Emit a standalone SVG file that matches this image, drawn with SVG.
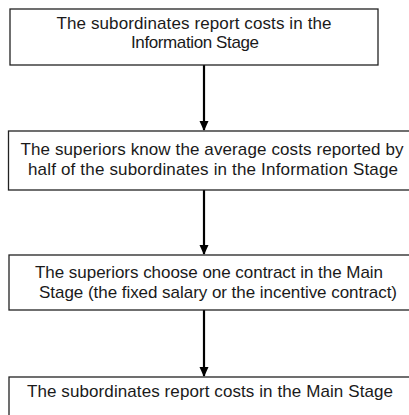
<svg xmlns="http://www.w3.org/2000/svg" width="409" height="415" viewBox="0 0 409 415">
<style>
.box{fill:#fff;stroke:#222;stroke-width:1.3}
.t{font-family:"Liberation Sans",Arial,sans-serif;font-size:17px;fill:#1a1a1a;text-anchor:middle}
.c{stroke:#000;stroke-width:2.2;fill:none}
</style>
<defs>
<marker id="ah" markerWidth="10" markerHeight="10" refX="9" refY="5" orient="auto" markerUnits="userSpaceOnUse" viewBox="0 0 10 10">
<path d="M0,0.5 L10,5 L0,9.5 Z" fill="#000"/>
</marker>
</defs>
<rect width="409" height="415" fill="#fff"/>
<g id="connectors">
<line class="c" x1="204" y1="65" x2="204" y2="130" marker-end="url(#ah)"/>
<line class="c" x1="204" y1="190" x2="204" y2="254" marker-end="url(#ah)"/>
<line class="c" x1="204" y1="310" x2="204" y2="376" marker-end="url(#ah)"/>
</g>
<g id="n1">
<rect class="box" x="10" y="9" width="368" height="56"/>
<text class="t" x="194" y="29" textLength="275" lengthAdjust="spacing">The subordinates report costs in the</text>
<text class="t" x="195" y="48" textLength="128" lengthAdjust="spacing">Information Stage</text>
</g>
<g id="n2">
<rect class="box" x="8.5" y="131" width="405" height="59"/>
<text class="t" x="212" y="155" textLength="383" lengthAdjust="spacing">The superiors know the average costs reported by</text>
<text class="t" x="213" y="175" textLength="370" lengthAdjust="spacing">half of the subordinates in the Information Stage</text>
</g>
<g id="n3">
<rect class="box" x="9" y="255" width="405" height="55"/>
<text class="t" x="209" y="278" textLength="348" lengthAdjust="spacing">The superiors choose one contract in the Main</text>
<text class="t" x="218" y="298" textLength="358" lengthAdjust="spacing">Stage (the fixed salary or the incentive contract)</text>
</g>
<g id="n4">
<rect class="box" x="9" y="377" width="405" height="45"/>
<text class="t" x="210" y="397" textLength="366" lengthAdjust="spacing">The subordinates report costs in the Main Stage</text>
</g>
</svg>
